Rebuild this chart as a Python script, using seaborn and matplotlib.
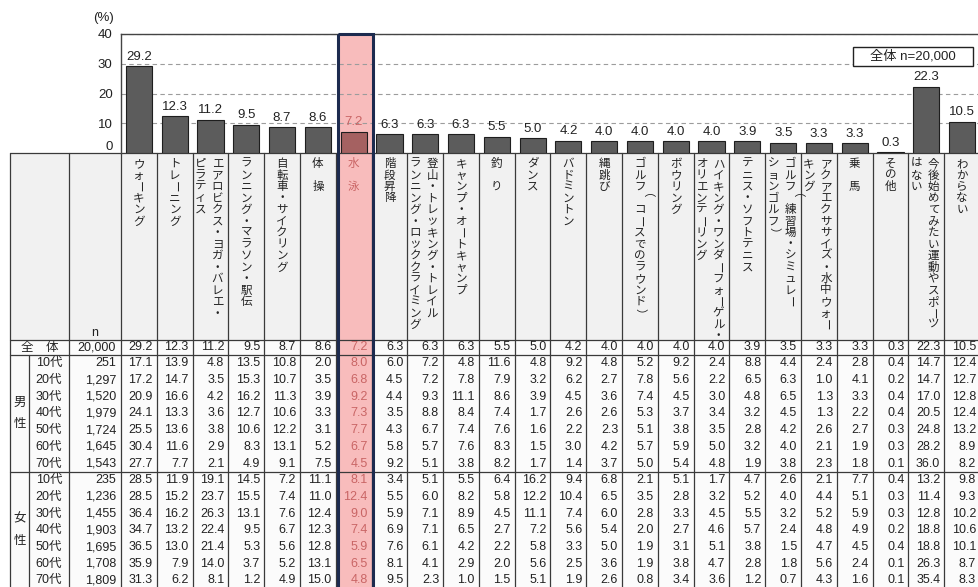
import matplotlib.pyplot as plt
import pandas as pd
import seaborn as sns
from matplotlib.patches import Rectangle

# header text, one entry per column; multi-part entries are vertical lines read right to left
header_cols = [
    ["ウォーキング"],
    ["トレーニング"],
    ["エアロビクス・ヨガ・バレエ・", "ピラティス"],
    ["ランニング・マラソン・駅伝"],
    ["自転車・サイクリング"],
    ["体　操"],
    ["水　泳"],
    ["階段昇降"],
    ["登山・トレッキング・トレイル", "ランニング・ロッククライミング"],
    ["キャンプ・オートキャンプ"],
    ["釣　り"],
    ["ダンス"],
    ["バドミントン"],
    ["縄跳び"],
    ["ゴルフ（コースでのラウンド）"],
    ["ボウリング"],
    ["ハイキング・ワンダーフォーゲル・", "オリエンテーリング"],
    ["テニス・ソフトテニス"],
    ["ゴルフ（練習場・シミュレー", "ションゴルフ）"],
    ["アクアエクササイズ・水中ウォー", "キング"],
    ["乗　馬"],
    ["その他"],
    ["今後始めてみたい運動やスポーツ", "はない"],
    ["わからない"],
]

overall = [29.2, 12.3, 11.2, 9.5, 8.7, 8.6, 7.2, 6.3, 6.3, 6.3, 5.5, 5.0,
           4.2, 4.0, 4.0, 4.0, 4.0, 3.9, 3.5, 3.3, 3.3, 0.3, 22.3, 10.5]
total_n = 20000

ages = ["10代", "20代", "30代", "40代", "50代", "60代", "70代"]
male_n = [251, 1297, 1520, 1979, 1724, 1645, 1543]
female_n = [235, 1236, 1455, 1903, 1695, 1708, 1809]

male_rates = [
    [17.1, 13.9, 4.8, 13.5, 10.8, 2.0, 8.0, 6.0, 7.2, 4.8, 11.6, 4.8, 9.2, 4.8, 5.2, 9.2, 2.4, 8.8, 4.4, 2.4, 2.8, 0.4, 14.7, 12.4],
    [17.2, 14.7, 3.5, 15.3, 10.7, 3.5, 6.8, 4.5, 7.2, 7.8, 7.9, 3.2, 6.2, 2.7, 7.8, 5.6, 2.2, 6.5, 6.3, 1.0, 4.1, 0.2, 14.7, 12.7],
    [20.9, 16.6, 4.2, 16.2, 11.3, 3.9, 9.2, 4.4, 9.3, 11.1, 8.6, 3.9, 4.5, 3.6, 7.4, 4.5, 3.0, 4.8, 6.5, 1.3, 3.3, 0.4, 17.0, 12.8],
    [24.1, 13.3, 3.6, 12.7, 10.6, 3.3, 7.3, 3.5, 8.8, 8.4, 7.4, 1.7, 2.6, 2.6, 5.3, 3.7, 3.4, 3.2, 4.5, 1.3, 2.2, 0.4, 20.5, 12.4],
    [25.5, 13.6, 3.8, 10.6, 12.2, 3.1, 7.7, 4.3, 6.7, 7.4, 7.6, 1.6, 2.2, 2.3, 5.1, 3.8, 3.5, 2.8, 4.2, 2.6, 2.7, 0.3, 24.8, 13.2],
    [30.4, 11.6, 2.9, 8.3, 13.1, 5.2, 6.7, 5.8, 5.7, 7.6, 8.3, 1.5, 3.0, 4.2, 5.7, 5.9, 5.0, 3.2, 4.0, 2.1, 1.9, 0.3, 28.2, 8.9],
    [27.7, 7.7, 2.1, 4.9, 9.1, 7.5, 4.5, 9.2, 5.1, 3.8, 8.2, 1.7, 1.4, 3.7, 5.0, 5.4, 4.8, 1.9, 3.8, 2.3, 1.8, 0.1, 36.0, 8.2],
]
female_rates = [
    [28.5, 11.9, 19.1, 14.5, 7.2, 11.1, 8.1, 3.4, 5.1, 5.5, 6.4, 16.2, 9.4, 6.8, 2.1, 5.1, 1.7, 4.7, 2.6, 2.1, 7.7, 0.4, 13.2, 9.8],
    [28.5, 15.2, 23.7, 15.5, 7.4, 11.0, 12.4, 5.5, 6.0, 8.2, 5.8, 12.2, 10.4, 6.5, 3.5, 2.8, 3.2, 5.2, 4.0, 4.4, 5.1, 0.3, 11.4, 9.3],
    [36.4, 16.2, 26.3, 13.1, 7.6, 12.4, 9.0, 5.9, 7.1, 8.9, 4.5, 11.1, 7.4, 6.0, 2.8, 3.3, 4.5, 5.5, 3.2, 5.2, 5.9, 0.3, 12.8, 10.2],
    [34.7, 13.2, 22.4, 9.5, 6.7, 12.3, 7.4, 6.9, 7.1, 6.5, 2.7, 7.2, 5.6, 5.4, 2.0, 2.7, 4.6, 5.7, 2.4, 4.8, 4.9, 0.2, 18.8, 10.6],
    [36.5, 13.0, 21.4, 5.3, 5.6, 12.8, 5.9, 7.6, 6.1, 4.2, 2.2, 5.8, 3.3, 5.0, 1.9, 3.1, 5.1, 3.8, 1.5, 4.7, 4.5, 0.4, 18.8, 10.1],
    [35.9, 7.9, 14.0, 3.7, 5.2, 13.1, 6.5, 8.1, 4.1, 2.9, 2.0, 5.6, 2.5, 3.6, 1.9, 3.8, 4.7, 2.8, 1.8, 5.6, 2.4, 0.1, 26.3, 8.7],
    [31.3, 6.2, 8.1, 1.2, 4.9, 15.0, 4.8, 9.5, 2.3, 1.0, 1.5, 5.1, 1.9, 2.6, 0.8, 3.4, 3.6, 1.2, 0.7, 4.3, 1.6, 0.1, 35.4, 8.3],
]

highlight = 6  # 水泳

W, H = 979, 587
INK = "#222222"
LINE = "#3a3a3a"
BAR = "#5c5c5c"
HL_BAR = "#a56161"
HL_FILL = "#f8bcbc"
HL_TEXT = "#c96565"
HL_EDGE = "#1d2b4f"
FS_TAB = 9

sns.set_style("white")
plt.rcParams["font.family"] = ["Liberation Sans", "Noto Sans CJK JP"]

categories = ["".join(c).replace("　", "") for c in header_cols]
df = pd.DataFrame({"category": categories, "pct": overall})

# layout (pixels)
x_left, x_gender, x_label, x_n = 10, 29, 69, 121
x_right = 980
col_w = (x_right - x_n) / len(categories)
y_chart_top, y_table_top, y_head_end, y_total_end = 34, 153, 340, 355
row_h = 16.7
y_female = y_total_end + len(ages) * row_h

fig = plt.figure(figsize=(W / 100, H / 100), dpi=100)
tab = fig.add_axes([0, 0, 1, 1])
tab.set_xlim(0, W)
tab.set_ylim(H, 0)
tab.axis("off")

ax = fig.add_axes([x_n / W, 1 - y_table_top / H, (x_right - x_n) / W,
                   (y_table_top - y_chart_top) / H])
ax.patch.set_alpha(0)

# ---- table background, highlight fill and rules ----
tab.add_patch(Rectangle((x_left, y_table_top), W - x_left, y_head_end - y_table_top,
                        fc="#f1f1f1", ec="none", zorder=0))
tab.add_patch(Rectangle((x_left, y_head_end), W - x_left, H - y_head_end,
                        fc="#fbfbfb", ec="none", zorder=0))
hl_x = x_n + highlight * col_w + 2.5
tab.add_patch(Rectangle((hl_x, y_chart_top), col_w - 1, H, fc=HL_FILL, ec="none", zorder=0.5))

for y in [y_table_top, y_head_end, y_total_end, y_female]:
    tab.plot([x_left, W], [y, y], color=LINE, lw=0.9, zorder=1)
col_edges = [x_n + i * col_w for i in range(1, len(categories))]
for x in [x_left, x_label, x_n] + col_edges:
    tab.plot([x, x], [y_table_top, H], color=LINE, lw=0.9, zorder=1)
tab.plot([x_gender, x_gender], [y_total_end, H], color=LINE, lw=0.9, zorder=1)

# ---- vertical header text ----
ROTATE = {"ー": -90, "（": -90, "）": -90}
pitch = 11.5
y_head0 = 164


def vtext(x, s, color):
    for k, ch in enumerate(s):
        if ch == "　":
            continue
        tab.text(x, y_head0 + k * pitch, ch, ha="center", va="center",
                 rotation=ROTATE.get(ch, 0), fontsize=8.3, color=color, zorder=3)


for i, cols in enumerate(header_cols):
    cx = x_n + (i + 0.5) * col_w
    xs = [cx] if len(cols) == 1 else [cx + 7, cx - 10]
    color = HL_TEXT if i == highlight else INK
    for x, s in zip(xs, cols):
        vtext(x, s, color)

tab.text((x_label + x_n) / 2, 333, "n", ha="center", va="center", fontsize=FS_TAB, color=INK)

# ---- table body ----
def draw_values(yc, n, vals):
    tab.text(x_n - 5, yc, f"{n:,}", ha="right", va="center", fontsize=FS_TAB, color=INK, zorder=3)
    for i, v in enumerate(vals):
        tab.text(x_n + (i + 1) * col_w - 4, yc, f"{v:.1f}", ha="right", va="center",
                 fontsize=FS_TAB, color=HL_TEXT if i == highlight else INK, zorder=3)


yc = (y_head_end + y_total_end) / 2
tab.text((x_left + x_label) / 2, yc, "全　体", ha="center", va="center", fontsize=FS_TAB, color=INK)
draw_values(yc, total_n, overall)

for top, gender, ns, rates in [(y_total_end, "男性", male_n, male_rates),
                               (y_female, "女性", female_n, female_rates)]:
    mid = top + len(ages) * row_h / 2
    tab.text((x_left + x_gender) / 2, mid - 11, gender[0], ha="center", va="center", fontsize=FS_TAB, color=INK)
    tab.text((x_left + x_gender) / 2, mid + 11, gender[1], ha="center", va="center", fontsize=FS_TAB, color=INK)
    for j, age in enumerate(ages):
        yc = top + (j + 0.5) * row_h
        tab.text((x_gender + x_label) / 2, yc, age, ha="center", va="center", fontsize=FS_TAB, color=INK)
        draw_values(yc, ns[j], rates[j])

# ---- bar chart ----
palette = {c: (HL_BAR if i == highlight else BAR) for i, c in enumerate(categories)}
sns.barplot(data=df, x="category", y="pct", hue="category", palette=palette, legend=False,
            width=0.73, saturation=1, edgecolor="#1e1e1e", linewidth=0.8, ax=ax)

for cont in ax.containers:
    texts = ax.bar_label(cont, fmt="%.1f", padding=2.5, fontsize=9.5, color=INK)
    for bar, t in zip(cont, texts):
        if round(bar.get_x() + bar.get_width() / 2) == highlight:
            t.set_color(HL_TEXT)

ax.set_xlim(-0.5, len(categories) - 0.5)
ax.set_ylim(0, 40)
ax.set_yticks([0, 10, 20, 30, 40])
ax.set_xticks([])
ax.set_xlabel("")
ax.set_ylabel("")
ax.tick_params(axis="y", length=0, pad=6, labelsize=9.5, labelcolor=INK)
ax.yaxis.get_major_ticks()[0].label1.set_va("bottom")
for s in ["right", "bottom"]:
    ax.spines[s].set_visible(False)
for s in ["top", "left"]:
    ax.spines[s].set_color("#444444")
    ax.spines[s].set_linewidth(1)
ax.yaxis.grid(True, color="#9c9c9c", linestyle=(0, (4, 3)), lw=0.8)
ax.set_axisbelow(True)

tab.text(104, 18, "(%)", ha="center", va="center", fontsize=9.5, color=INK)

# legend box and highlight frame sit above the chart
ax.add_patch(Rectangle((853, 47), 120, 19, fc="white", ec=INK, lw=1,
                       transform=tab.transData, clip_on=False, zorder=10))
ax.text(913, 56.5, f"全体 n={total_n:,}", ha="center", va="center", fontsize=9.5, color=INK,
        transform=tab.transData, zorder=11)
ax.add_patch(Rectangle((hl_x, y_chart_top), col_w - 1, H, fill=False, ec=HL_EDGE, lw=2.2,
                       transform=tab.transData, clip_on=False, zorder=20))

fig.savefig("out.png", dpi=100)
